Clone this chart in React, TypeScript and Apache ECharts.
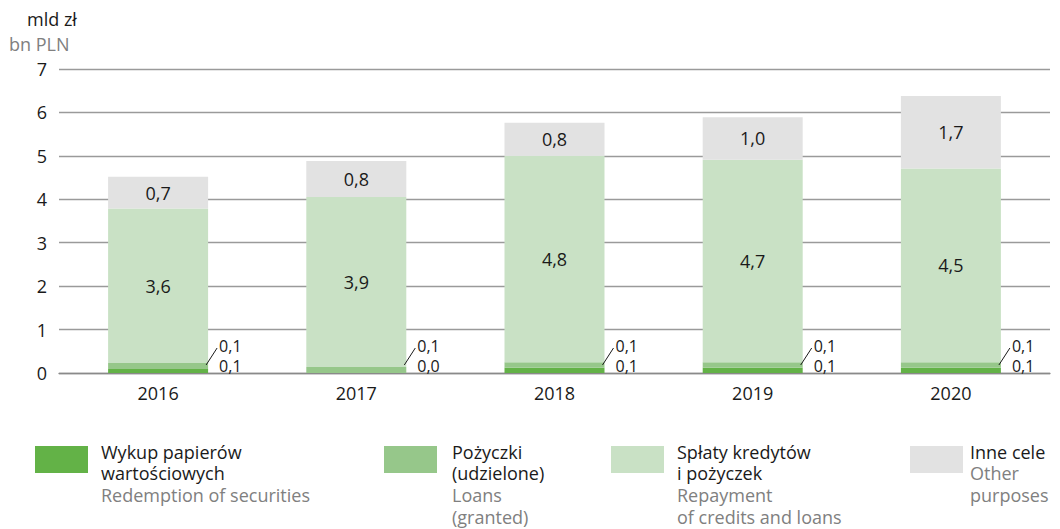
import React, { useEffect, useRef } from "react";
import * as echarts from "echarts";

const years = ["2016", "2017", "2018", "2019", "2020"];
const securities = [0.09, 0.0, 0.12, 0.12, 0.12];
const loans = [0.14, 0.14, 0.13, 0.13, 0.13];
const repayment = [3.56, 3.91, 4.75, 4.66, 4.46];
const other = [0.73, 0.83, 0.76, 0.98, 1.67];
const yTicks = { min: 0, max: 7, interval: 1 };

const colors = {
  securities: "#63b247",
  loans: "#96c78a",
  repayment: "#c9e1c5",
  other: "#e2e2e2",
};

const legendItems = [
  { color: colors.securities, sx: 35, tx: 101, pl: ["Wykup papierów", "wartościowych"], en: ["Redemption of securities"] },
  { color: colors.loans, sx: 384, tx: 452, pl: ["Pożyczki", "(udzielone)"], en: ["Loans", "(granted)"] },
  { color: colors.repayment, sx: 611, tx: 677, pl: ["Spłaty kredytów", "i pożyczek"], en: ["Repayment", "of credits and loans"] },
  { color: colors.other, sx: 910, tx: 970, pl: ["Inne cele"], en: ["Other", "purposes"] },
];

const FONT = '"Open Sans", "Noto Sans", sans-serif';
const FS = 18;
const fmt = (v: number) => v.toFixed(1).replace(".", ",");

export default function App() {
  const ref = useRef<HTMLDivElement>(null);
  useEffect(() => {
    if (!ref.current) return;
    const chart = echarts.init(ref.current, undefined, { renderer: "svg" });

    const graphics: any[] = [
      { type: "text", x: 27, y: 19, style: { text: "mld zł", fill: "#1a1a1a", font: `${FS}px ${FONT}`, textVerticalAlign: "middle", verticalAlign: "middle" } },
      { type: "text", x: 9, y: 44, style: { text: "bn PLN", fill: "#808080", font: `${FS}px ${FONT}`, textVerticalAlign: "middle", verticalAlign: "middle" } },
    ];
    legendItems.forEach((it) => {
      graphics.push({ type: "rect", shape: { x: it.sx, y: 446, width: 53, height: 27 }, style: { fill: it.color } });
      const lines = [
        ...it.pl.map((t) => ({ t, c: "#1a1a1a" })),
        ...it.en.map((t) => ({ t, c: "#808080" })),
      ];
      lines.forEach((ln, i) => {
        graphics.push({
          type: "text",
          x: it.tx,
          y: 451.5 + i * 21.7,
          style: { text: ln.t, fill: ln.c, font: `${FS}px ${FONT}`, textVerticalAlign: "middle", verticalAlign: "middle" },
        });
      });
    });

    const barBase = {
      type: "bar",
      stack: "total",
      barWidth: 100,
    };
    const inLabel = {
      show: true,
      position: "inside",
      color: "#1a1a1a",
      fontSize: FS,
      fontFamily: FONT,
      formatter: (p: any) => fmt(p.value),
    };

    chart.setOption({
      animation: false,
      textStyle: { fontFamily: FONT },
      grid: { left: 59, right: 10, top: 69, bottom: 156 },
      xAxis: {
        type: "category",
        data: years,
        axisTick: { show: false },
        axisLine: { lineStyle: { color: "#8a8a8a", width: 1.3 } },
        axisLabel: { color: "#1a1a1a", fontSize: FS, margin: 11, fontFamily: FONT },
      },
      yAxis: {
        type: "value",
        min: yTicks.min,
        max: yTicks.max,
        interval: yTicks.interval,
        axisLine: { show: false },
        axisTick: { show: false },
        splitLine: { lineStyle: { color: "#9a9a9a", width: 1.3 } },
        axisLabel: { color: "#1a1a1a", fontSize: FS, margin: 12, fontFamily: FONT },
      },
      graphic: graphics,
      series: [
        { ...barBase, name: "securities", data: securities, itemStyle: { color: colors.securities } },
        { ...barBase, name: "loans", data: loans, itemStyle: { color: colors.loans } },
        { ...barBase, name: "repayment", data: repayment, itemStyle: { color: colors.repayment }, label: inLabel },
        { ...barBase, name: "other", data: other, itemStyle: { color: colors.other }, label: inLabel },
        {
          type: "custom",
          name: "small",
          data: years.map((_, i) => [i, securities[i], loans[i]]),
          z: 10,
          renderItem: (params: any, api: any) => {
            const p = api.coord([api.value(0), 0]);
            const x = p[0] + 50;
            const y = p[1];
            return {
              type: "group",
              children: [
                { type: "line", shape: { x1: x - 2, y1: y - 8, x2: x + 9, y2: y - 25 }, style: { stroke: "#1a1a1a", lineWidth: 1 } },
                { type: "text", x: x + 11, y: y - 27, style: { text: fmt(api.value(2)), fill: "#1a1a1a", font: `16px ${FONT}`, textVerticalAlign: "middle", verticalAlign: "middle" } },
                { type: "text", x: x + 11, y: y - 7, style: { text: fmt(api.value(1)), fill: "#1a1a1a", font: `16px ${FONT}`, textVerticalAlign: "middle", verticalAlign: "middle" } },
              ],
            };
          },
        },
      ],
    });
    return () => chart.dispose();
  }, []);
  return <div ref={ref} style={{ width: 1060, height: 529, position: "absolute", left: 0, top: 0 }} />;
}
